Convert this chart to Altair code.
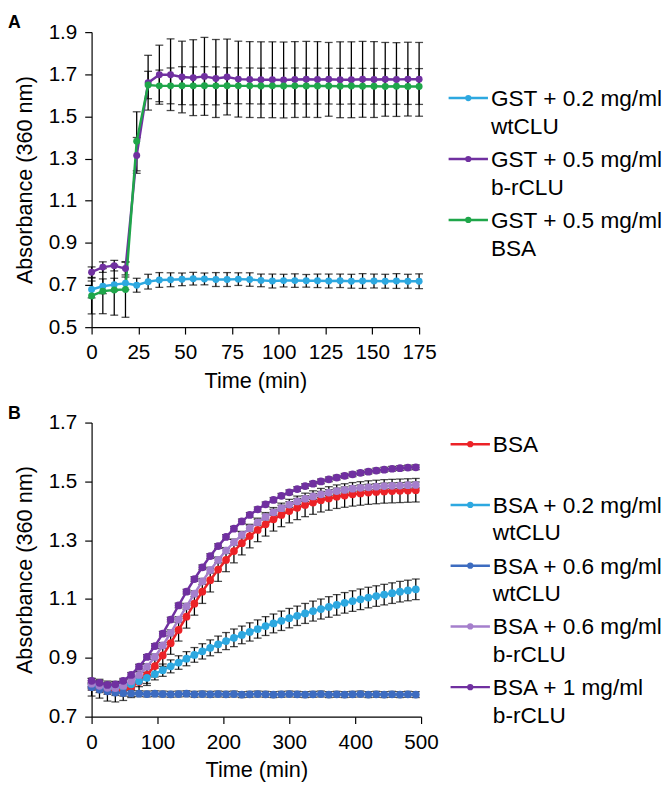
import altair as alt
import pandas as pd

FONT = "Liberation Sans"

# ---------------- Panel A data ----------------
a_time = [0, 6, 12.1, 18.1, 24.1, 30.2, 36.2, 42.2, 48.3, 54.3, 60.3, 66.4, 72.4, 78.4, 84.5,
          90.5, 96.6, 102.6, 108.6, 114.7, 120.7, 126.7, 132.8, 138.8, 144.8, 150.9, 156.9,
          162.9, 169, 175]
a_series = ["GST + 0.2 mg/ml\nwtCLU", "GST + 0.5 mg/ml\nb-rCLU", "GST + 0.5 mg/ml\nBSA"]
a_colors = ["#2DA8E0", "#7030A0", "#1FA64A"]

a_wt02 = [0.679, 0.694, 0.702, 0.708, 0.699, 0.716, 0.724, 0.725, 0.727, 0.730, 0.729, 0.726,
          0.726, 0.728, 0.726, 0.722, 0.719, 0.721, 0.721, 0.720, 0.720, 0.719, 0.720, 0.718,
          0.719, 0.719, 0.718, 0.719, 0.718, 0.718]
a_wt02_err = [0.040, 0.035, 0.030, 0.030, 0.033, 0.035, 0.035, 0.033, 0.030, 0.030, 0.028, 0.033,
              0.033, 0.030, 0.032, 0.030, 0.033, 0.030, 0.032, 0.030, 0.032, 0.033, 0.032, 0.033,
              0.035, 0.033, 0.033, 0.035, 0.033, 0.035]
a_br05 = [0.761, 0.785, 0.792, 0.778, 1.315, 1.660, 1.698, 1.698, 1.687, 1.684, 1.690, 1.680,
          1.687, 1.677, 1.675, 1.674, 1.674, 1.673, 1.675, 1.676, 1.675, 1.676, 1.674, 1.674,
          1.676, 1.675, 1.676, 1.675, 1.677, 1.676]
a_br05_err = [0.025, 0.025, 0.025, 0.030, 0.085, 0.130, 0.140, 0.170, 0.170, 0.180, 0.185, 0.185,
              0.180, 0.180, 0.180, 0.180, 0.180, 0.180, 0.180, 0.180, 0.180, 0.175, 0.180, 0.180,
              0.180, 0.180, 0.175, 0.175, 0.175, 0.175]
a_bsa05 = [0.648, 0.671, 0.676, 0.679, 1.382, 1.649, 1.645, 1.645, 1.646, 1.645, 1.646, 1.645,
           1.646, 1.645, 1.645, 1.644, 1.645, 1.644, 1.645, 1.644, 1.644, 1.644, 1.643, 1.644,
           1.643, 1.643, 1.642, 1.643, 1.642, 1.642]
a_bsa05_err = [0.085, 0.107, 0.119, 0.132, 0.140, 0.065, 0.075, 0.085, 0.090, 0.090, 0.090, 0.090,
               0.085, 0.085, 0.085, 0.085, 0.085, 0.085, 0.085, 0.085, 0.085, 0.085, 0.085, 0.085,
               0.085, 0.085, 0.085, 0.085, 0.085, 0.085]
a_xticks = [0, 25, 50, 75, 100, 125, 150, 175]
a_yticks = [0.5, 0.7, 0.9, 1.1, 1.3, 1.5, 1.7, 1.9]

# ---------------- Panel B data ----------------
b_time = [0, 12, 24, 36, 48, 60, 72, 84, 96, 108, 120, 132, 144, 156, 168, 180, 192, 204, 216,
          228, 240, 252, 264, 276, 288, 300, 312, 324, 336, 348, 360, 372, 384, 396, 408, 420,
          432, 444, 456, 468, 480, 492]
b_series = ["BSA", "BSA + 0.2 mg/ml\nwtCLU", "BSA + 0.6 mg/ml\nwtCLU",
            "BSA + 0.6 mg/ml\nb-rCLU", "BSA + 1 mg/ml\nb-rCLU"]
b_colors = ["#EC2227", "#2DA8E0", "#3D6CC0", "#A57FCC", "#7030A0"]

b_bsa = [0.800, 0.795, 0.787, 0.785, 0.790, 0.800, 0.818, 0.842, 0.872, 0.908, 0.950, 0.995,
         1.040, 1.084, 1.125, 1.164, 1.200, 1.233, 1.263, 1.290, 1.314, 1.335, 1.354, 1.371,
         1.386, 1.399, 1.410, 1.420, 1.428, 1.436, 1.442, 1.448, 1.452, 1.456, 1.459, 1.462,
         1.464, 1.466, 1.467, 1.468, 1.469, 1.470]
b_bsa_err = [0.030, 0.032, 0.034, 0.035, 0.035, 0.035, 0.036, 0.036, 0.037, 0.037, 0.038, 0.038,
             0.039, 0.039, 0.040, 0.040, 0.040, 0.040, 0.040, 0.040, 0.040, 0.040, 0.040, 0.040,
             0.040, 0.040, 0.040, 0.040, 0.040, 0.040, 0.040, 0.040, 0.040, 0.040, 0.040, 0.040,
             0.040, 0.040, 0.040, 0.040, 0.040, 0.040]
b_wt02 = [0.805, 0.800, 0.797, 0.798, 0.802, 0.810, 0.820, 0.832, 0.845, 0.858, 0.871, 0.884,
          0.897, 0.910, 0.922, 0.934, 0.946, 0.957, 0.968, 0.978, 0.988, 0.998, 1.008, 1.017,
          1.026, 1.035, 1.043, 1.051, 1.059, 1.066, 1.073, 1.080, 1.087, 1.093, 1.099, 1.105,
          1.110, 1.115, 1.120, 1.125, 1.129, 1.133]
b_wt02_err = [0.010, 0.010, 0.012, 0.013, 0.015, 0.016, 0.018, 0.019, 0.020, 0.021, 0.022, 0.023,
              0.024, 0.025, 0.026, 0.027, 0.028, 0.029, 0.030, 0.030, 0.031, 0.031, 0.032, 0.032,
              0.033, 0.033, 0.033, 0.034, 0.034, 0.034, 0.035, 0.035, 0.035, 0.035, 0.035, 0.035,
              0.035, 0.035, 0.035, 0.035, 0.035, 0.035]
b_wt06 = [0.800, 0.792, 0.786, 0.782, 0.780, 0.779, 0.778, 0.777, 0.778, 0.777, 0.776, 0.777,
          0.778, 0.776, 0.777, 0.776, 0.777, 0.776, 0.777, 0.775, 0.776, 0.777, 0.776, 0.775,
          0.776, 0.777, 0.776, 0.775, 0.776, 0.777, 0.775, 0.776, 0.775, 0.776, 0.777, 0.775,
          0.776, 0.775, 0.776, 0.775, 0.776, 0.775]
b_wt06_err = [0.010, 0.010, 0.010, 0.010, 0.010, 0.010, 0.010, 0.010, 0.010, 0.010, 0.010, 0.010,
              0.010, 0.010, 0.010, 0.010, 0.010, 0.010, 0.010, 0.010, 0.010, 0.010, 0.010, 0.010,
              0.010, 0.010, 0.010, 0.010, 0.010, 0.010, 0.010, 0.010, 0.010, 0.010, 0.010, 0.010,
              0.010, 0.010, 0.010, 0.010, 0.010, 0.010]
b_br06 = [0.812, 0.805, 0.798, 0.797, 0.805, 0.820, 0.842, 0.870, 0.903, 0.942, 0.985, 1.030,
          1.075, 1.118, 1.160, 1.198, 1.233, 1.265, 1.293, 1.318, 1.341, 1.361, 1.379, 1.395,
          1.409, 1.421, 1.432, 1.441, 1.449, 1.456, 1.462, 1.467, 1.471, 1.475, 1.478, 1.480,
          1.482, 1.484, 1.485, 1.486, 1.487, 1.488]
b_br06_err = [0.010, 0.010, 0.010, 0.010, 0.010, 0.010, 0.010, 0.010, 0.010, 0.010, 0.010, 0.010,
              0.010, 0.010, 0.010, 0.010, 0.010, 0.010, 0.010, 0.010, 0.010, 0.010, 0.010, 0.010,
              0.010, 0.010, 0.010, 0.010, 0.010, 0.010, 0.010, 0.010, 0.010, 0.010, 0.010, 0.010,
              0.010, 0.010, 0.010, 0.010, 0.010, 0.010]
b_br1 = [0.822, 0.815, 0.808, 0.810, 0.822, 0.842, 0.870, 0.903, 0.940, 0.982, 1.030, 1.078,
         1.125, 1.168, 1.208, 1.246, 1.280, 1.311, 1.339, 1.364, 1.386, 1.405, 1.422, 1.437,
         1.451, 1.463, 1.474, 1.484, 1.492, 1.500, 1.507, 1.513, 1.519, 1.524, 1.529, 1.533,
         1.537, 1.540, 1.543, 1.545, 1.547, 1.548]
b_br1_err = [0.008, 0.008, 0.008, 0.008, 0.008, 0.008, 0.008, 0.008, 0.008, 0.008, 0.008, 0.008,
             0.008, 0.008, 0.008, 0.008, 0.008, 0.008, 0.008, 0.008, 0.008, 0.008, 0.008, 0.008,
             0.008, 0.008, 0.008, 0.008, 0.008, 0.008, 0.008, 0.008, 0.008, 0.008, 0.008, 0.008,
             0.008, 0.008, 0.008, 0.008, 0.008, 0.008]
b_xticks = [0, 100, 200, 300, 400, 500]
b_yticks = [0.7, 0.9, 1.1, 1.3, 1.5, 1.7]


def long_frame(times, names, values, errors):
    rows = []
    for name, vals, errs in zip(names, values, errors):
        for t, v, e in zip(times, vals, errs):
            rows.append({"time": t, "series": name, "value": v, "lo": v - e, "hi": v + e})
    return pd.DataFrame(rows)


dfA = long_frame(a_time, a_series, [a_wt02, a_br05, a_bsa05], [a_wt02_err, a_br05_err, a_bsa05_err])
dfB = long_frame(b_time, b_series, [b_bsa, b_wt02, b_wt06, b_br06, b_br1],
                 [b_bsa_err, b_wt02_err, b_wt06_err, b_br06_err, b_br1_err])

YTITLE = "Absorbance (360 nm)"
XTITLE = "Time (min)"


def panel(df, series, colors, xdom, xticks, ydom, yticks, label, width, height, psize):
    color = alt.Color("series:N", scale=alt.Scale(domain=series, range=colors), legend=None)
    xenc = alt.X("time:Q", scale=alt.Scale(domain=xdom, nice=False, zero=False),
                 axis=alt.Axis(values=xticks, title=XTITLE, format="d", labelOverlap=False,
                               labelFlush=False))
    yscale = alt.Scale(domain=ydom, nice=False, zero=False)
    yaxis = alt.Axis(values=yticks, title=YTITLE, format=".1f", labelOverlap=False,
                     labelFlush=False)
    base = alt.Chart(df).encode(x=xenc)
    rule = base.mark_rule(color="black", strokeWidth=1.3).encode(
        y=alt.Y("lo:Q", scale=yscale, axis=yaxis), y2="hi:Q")
    cap_lo = base.mark_tick(color="black", orient="horizontal", size=8, thickness=1.3).encode(
        y=alt.Y("lo:Q", scale=yscale, axis=yaxis))
    cap_hi = base.mark_tick(color="black", orient="horizontal", size=8, thickness=1.3).encode(
        y=alt.Y("hi:Q", scale=yscale, axis=yaxis))
    line = base.mark_line(strokeWidth=2.5).encode(
        y=alt.Y("value:Q", scale=yscale, axis=yaxis), color=color)
    pts = base.mark_circle(size=psize, opacity=1).encode(
        y=alt.Y("value:Q", scale=yscale, axis=yaxis), color=color)
    # panel letter placed top-left, outside the plot area
    tag = alt.Chart(pd.DataFrame({"label": [label]})).mark_text(
        align="left", baseline="middle", font=FONT, fontSize=18, fontWeight="bold",
        color="black").encode(x=alt.value(-85), y=alt.value(-9), text="label:N")
    return alt.layer(rule, cap_lo, cap_hi, line, pts, tag).properties(width=width, height=height)


def legend(series, colors, yrange, lh):
    color = alt.Color("series:N", scale=alt.Scale(domain=series, range=colors), legend=None)
    ldf = pd.DataFrame({"series": series})
    yenc = alt.Y("series:N", sort=series,
                 scale=alt.Scale(type="point", domain=series, range=yrange, padding=0), axis=None)
    lb = alt.Chart(ldf).encode(y=yenc)
    sym = lb.mark_rule(strokeWidth=2.5).encode(x=alt.value(0), x2=alt.value(40), color=color)
    dot = lb.mark_circle(size=40, opacity=1).encode(x=alt.value(20), color=color)
    txt = lb.mark_text(align="left", baseline="alphabetic", dy=8, lineBreak="\n", lineHeight=lh,
                       fontSize=23, font=FONT, color="black").encode(
        x=alt.value(43), text="series:N")
    return alt.layer(sym, dot, txt).properties(width=170, height=300)


chartA = panel(dfA, a_series, a_colors, [0, 175], a_xticks, [0.5, 1.9], a_yticks, "A", 333, 300, 50)
chartB = panel(dfB, b_series, b_colors, [0, 500], b_xticks, [0.7, 1.7], b_yticks, "B", 335, 299, 62)
legA = legend(a_series, a_colors, [67, 191], 29)
legB = legend(b_series, b_colors, [22, 269], 28)

rowA = alt.hconcat(chartA, legA, spacing=10)
rowB = alt.hconcat(chartB, legB, spacing=10)

chart = alt.vconcat(rowA, rowB, spacing=14).resolve_scale(color="independent").properties(
    padding=0).configure_view(stroke=None).configure_axis(
    domainColor="black", tickColor="black", labelColor="black", titleColor="black",
    labelFont=FONT, titleFont=FONT, labelFontSize=21, titleFontSize=22,
    titleFontWeight="normal", tickSize=7, grid=False, labelPadding=8, domainWidth=1.2,
    tickWidth=1.2).configure_axisX(titlePadding=8).configure_axisY(titlePadding=12)

chart.save("out.html", embed_options={"renderer": "svg", "actions": False})
